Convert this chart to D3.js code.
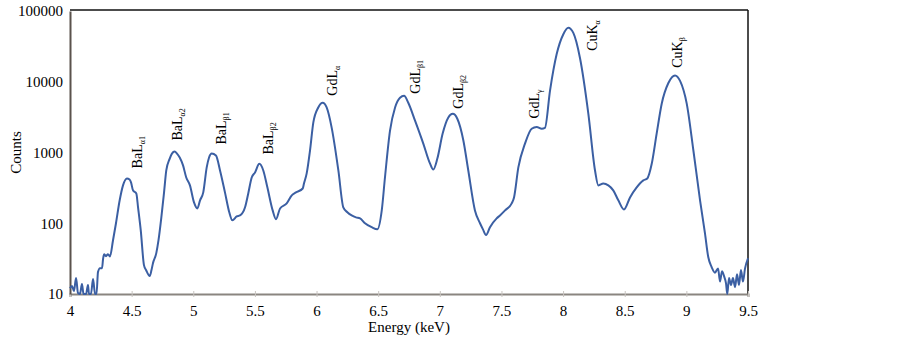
<!DOCTYPE html>
<html>
<head>
<meta charset="utf-8">
<script src="https://cdn.jsdelivr.net/npm/d3@7"></script>
<style>
  html, body { margin: 0; padding: 0; background: #fff; }
  text { font-family: "Liberation Serif", "Times New Roman", serif; }
</style>
</head>
<body>
<svg id="spectrum"></svg>
<script>
// spectrum: energy (keV) and counts
let energy = [4.000, 4.016, 4.032, 4.049, 4.065, 4.081, 4.097, 4.110, 4.130, 4.146, 4.154, 4.170, 4.187, 4.203, 4.215,
    4.227, 4.243, 4.260, 4.268, 4.276, 4.292, 4.308, 4.324, 4.349, 4.373, 4.403, 4.430, 4.462, 4.483, 4.495,
    4.511, 4.538, 4.552, 4.574, 4.600, 4.617, 4.647, 4.661, 4.673, 4.700, 4.718, 4.741, 4.763, 4.781, 4.809,
    4.827, 4.849, 4.868, 4.890, 4.917, 4.943, 4.973, 5.006, 5.033, 5.055, 5.081, 5.109, 5.128, 5.150, 5.184,
    5.217, 5.257, 5.292, 5.317, 5.352, 5.379, 5.420, 5.446, 5.474, 5.501, 5.536, 5.568, 5.601, 5.644, 5.671,
    5.704, 5.758, 5.799, 5.833, 5.888, 5.898, 5.920, 5.947, 5.974, 6.014, 6.050, 6.082, 6.123, 6.177, 6.217,
    6.250, 6.285, 6.320, 6.353, 6.393, 6.447, 6.493, 6.529, 6.555, 6.596, 6.637, 6.677, 6.710, 6.744, 6.799,
    6.866, 6.920, 6.947, 6.980, 7.023, 7.069, 7.105, 7.142, 7.191, 7.231, 7.285, 7.326, 7.350, 7.375, 7.407,
    7.461, 7.488, 7.529, 7.583, 7.602, 7.637, 7.691, 7.745, 7.786, 7.827, 7.853, 7.894, 7.948, 8.002, 8.042,
    8.083, 8.137, 8.205, 8.259, 8.286, 8.326, 8.367, 8.407, 8.448, 8.494, 8.543, 8.597, 8.651, 8.683, 8.719,
    8.759, 8.800, 8.854, 8.908, 8.949, 9.003, 9.057, 9.111, 9.151, 9.178, 9.205, 9.232, 9.257, 9.273, 9.289,
    9.305, 9.322, 9.332, 9.346, 9.362, 9.378, 9.395, 9.411, 9.427, 9.443, 9.459, 9.476, 9.500];

let counts = [12.1, 13, 11, 16.8, 10.3, 10, 13.8, 10, 10, 13.4, 10, 10, 16.3, 10, 10,
    20.4, 23.2, 23.2, 31, 36.6, 34.3, 36.6, 34, 57.6, 100, 211, 343, 430, 416, 379,
    292, 264, 168, 79.5, 25.6, 21.8, 17.9, 21.8, 27.3, 37.8, 57.6, 121, 273, 557, 820,
    965, 1030, 965, 850, 657, 443, 343, 197, 162, 211, 273, 615, 850, 965, 907,
    557, 273, 143, 110, 125, 129, 168, 264, 443, 522, 692, 557, 322, 152, 114,
    162, 191, 248, 273, 310, 364, 506, 1067, 2660, 4330, 5050, 4330, 2230, 557, 168,
    143, 129, 121, 117, 100, 88, 82, 152, 443, 2040, 4330, 5950, 6330, 5050, 2820,
    1335, 700, 573, 820, 1850, 3120, 3520, 3000, 1480, 557, 152, 100, 82, 68, 88,
    117, 129, 152, 191, 232, 615, 1335, 2170, 2300, 2170, 2230, 7500, 24600, 47000, 58000,
    49000, 21700, 3520, 557, 343, 364, 343, 292, 211, 157, 232, 322, 404, 430, 692,
    1850, 4900, 9600, 12300, 10300, 4900, 1067, 211, 72, 33, 24, 20, 23, 15, 21,
    18, 14, 10, 16.8, 13.4, 16.8, 12.5, 19, 13.4, 21.8, 15, 23, 32];

// peak labels: name, subscript, and where the label starts (keV, counts)
let peakNames = ["BaL", "BaL", "BaL", "BaL", "GdL", "GdL", "GdL", "GdL", "CuK", "CuK"];
let peakSubs = ["\u03b11", "\u03b12", "\u03b21", "\u03b22", "\u03b1", "\u03b21", "\u03b22", "\u03b3", "\u03b1", "\u03b2"];
let peakE = [4.584, 4.909, 5.266, 5.647, 6.166, 6.839, 7.188, 7.805, 8.275, 8.965];
let peakC = [596, 1475, 1297, 937, 6350, 6780, 4170, 3015, 27350, 15740];

let xTicks = [4, 4.5, 5, 5.5, 6, 6.5, 7, 7.5, 8, 8.5, 9, 9.5];
let yTicks = [10, 100, 1000, 10000, 100000];

function makeSpectrum() {
    let w = 903;
    let h = 341;
    let left = 70, right = 748, top = 11, bottom = 294;

    let svg = d3.select("#spectrum")
        .attr("width", w)
        .attr("height", h);

    let xScale = d3.scaleLinear()
        .domain([4, 9.5])
        .range([left, right]);

    let yScale = d3.scaleLog()
        .domain([10, 100000])
        .range([bottom, top]);

    // frame: top and right borders
    svg.append("line")
        .attr("x1", left).attr("x2", right)
        .attr("y1", top - 1).attr("y2", top - 1)
        .attr("stroke", "#111").attr("stroke-width", 1.5);
    svg.append("line")
        .attr("x1", right).attr("x2", right)
        .attr("y1", top - 1).attr("y2", bottom)
        .attr("stroke", "#111").attr("stroke-width", 1.5);

    // x axis
    let xAxis = d3.axisBottom(xScale)
        .tickValues(xTicks)
        .tickFormat(d => d)
        .tickSize(3)
        .tickPadding(8);
    let xAxisGroup = svg.append("g")
        .attr("transform", `translate(0, ${bottom})`)
        .call(xAxis);
    xAxisGroup.select(".domain").attr("stroke", "#8a8580").attr("stroke-width", 2);
    xAxisGroup.selectAll(".tick line").attr("stroke", "#c8c4c0").attr("y1", -3);
    xAxisGroup.selectAll(".tick text")
        .attr("font-family", "Liberation Serif")
        .attr("font-size", 15)
        .attr("fill", "#000");

    // y axis
    let yAxis = d3.axisLeft(yScale)
        .tickValues(yTicks)
        .tickFormat(d3.format("d"))
        .tickSize(0)
        .tickPadding(7);
    let yAxisGroup = svg.append("g")
        .attr("transform", `translate(${left},0)`)
        .call(yAxis);
    yAxisGroup.select(".domain").attr("stroke", "#5a524c").attr("stroke-width", 2);
    yAxisGroup.selectAll(".tick text")
        .attr("font-family", "Liberation Serif")
        .attr("font-size", 15)
        .attr("fill", "#000");

    // axis titles
    svg.append("text")
        .attr("x", (left + right) / 2)
        .attr("y", 332)
        .attr("text-anchor", "middle")
        .attr("font-size", 15)
        .text("Energy (keV)");
    svg.append("text")
        .attr("transform", `translate(21, ${(top + bottom) / 2}) rotate(-90)`)
        .attr("text-anchor", "middle")
        .attr("font-size", 15)
        .text("Counts");

    // the spectrum
    let points = energy.map((e, i) => [e, counts[i]]);
    let line = d3.line()
        .x(d => xScale(d[0]))
        .y(d => yScale(d[1]))
        .curve(d3.curveMonotoneX);
    svg.append("path")
        .datum(points)
        .attr("fill", "none")
        .attr("stroke", "#3b5fa3")
        .attr("stroke-width", 2)
        .attr("stroke-linejoin", "round")
        .attr("d", line);

    // peak labels, written upward
    let labels = svg.append("g")
        .selectAll("text")
        .data(peakNames)
        .join("text")
        .attr("transform", (d, i) => `translate(${xScale(peakE[i])}, ${yScale(peakC[i])}) rotate(-90)`)
        .attr("font-size", 14)
        .attr("fill", "#000");
    labels.append("tspan").text(d => d);
    labels.append("tspan")
        .attr("font-size", 8)
        .attr("dy", 3)
        .text((d, i) => peakSubs[i]);
}

window.onload = function() {
    makeSpectrum();
}
</script>
</body>
</html>
